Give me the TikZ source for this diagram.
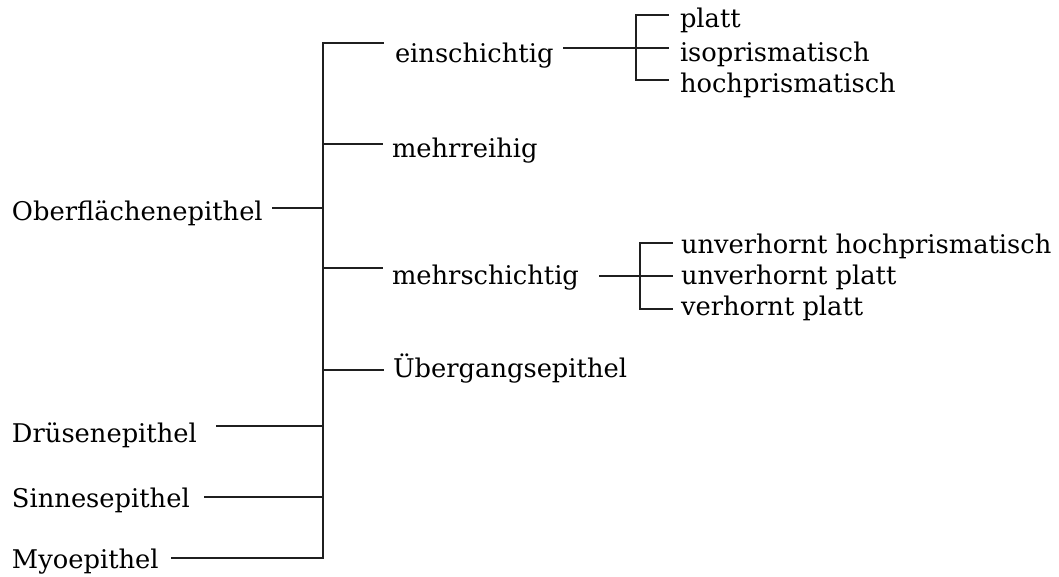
\documentclass[tikz,border=0pt]{standalone}
\usepackage{fontspec}
\setmainfont{DejaVu Serif}
\begin{document}
\begin{tikzpicture}[x=0.75pt,y=-0.75pt,
  lbl/.style={anchor=base west,inner sep=0pt,outer sep=0pt,font=\fontsize{19.3}{22}\selectfont,text=black},
  conn/.style={draw=black!88,line width=1.45pt,line cap=rect}]
\useasboundingbox (0,0) rectangle (1059,576);

% left column
\node[lbl] (ober) at (12,220) {Oberflächenepithel};
\node[lbl] (drues) at (12,442) {Drüsenepithel};
\node[lbl] (sinn) at (12,507) {Sinnesepithel};
\node[lbl] (myo) at (12,568) {Myoepithel};

% second column
\node[lbl] (ein) at (395,62) {einschichtig};
\node[lbl] (mreih) at (392,157) {mehrreihig};
\node[lbl] (mschi) at (392,284) {mehrschichtig};
\node[lbl] (ueber) at (393,377) {Übergangsepithel};

% third column, single-layered
\node[lbl] (platt) at (680,27) {platt};
\node[lbl] (iso) at (680,61) {isoprismatisch};
\node[lbl] (hoch) at (680,92) {hochprismatisch};

% third column, stratified
\node[lbl] (uvhp) at (681,253) {unverhornt hochprismatisch};
\node[lbl] (uvp) at (681,284) {unverhornt platt};
\node[lbl] (vp) at (681,315) {verhornt platt};

% trunk and its junctions
\coordinate (tTop) at (323,43);
\coordinate (tBot) at (323,558);
\coordinate (jOber) at (323,208);
\coordinate (jDrues) at (323,426);
\coordinate (jSinn) at (323,497);
\coordinate (jReih) at (323,144);
\coordinate (jSchi) at (323,268);
\coordinate (jUeber) at (323,370);

% free line ends
\coordinate (eOber) at (273,208);
\coordinate (eDrues) at (217,426);
\coordinate (eSinn) at (205,497);
\coordinate (eMyo) at (172,558);
\coordinate (eEin) at (383,43);
\coordinate (eReih) at (382,144);
\coordinate (eSchi) at (382,268);
\coordinate (eUeber) at (383,370);

% bracket for einschichtig
\coordinate (aIn) at (564,48);
\coordinate (aTop) at (636,15);
\coordinate (aMid) at (636,48);
\coordinate (aBot) at (636,80);
\coordinate (aT1) at (668,15);
\coordinate (aT2) at (668,48);
\coordinate (aT3) at (668,80);

% bracket for mehrschichtig
\coordinate (bIn) at (600,276);
\coordinate (bTop) at (640,243);
\coordinate (bMid) at (640,276);
\coordinate (bBot) at (640,309);
\coordinate (bT1) at (672,243);
\coordinate (bT2) at (672,276);
\coordinate (bT3) at (672,309);

\draw[conn] (eEin) -- (tTop) -- (tBot) -- (eMyo);
\draw[conn] (eOber) -- (jOber);
\draw[conn] (eDrues) -- (jDrues);
\draw[conn] (eSinn) -- (jSinn);
\draw[conn] (jReih) -- (eReih);
\draw[conn] (jSchi) -- (eSchi);
\draw[conn] (jUeber) -- (eUeber);

\draw[conn] (aIn) -- (aT2);
\draw[conn] (aT1) -- (aTop) -- (aBot) -- (aT3);
\draw[conn] (bIn) -- (bT2);
\draw[conn] (bT1) -- (bTop) -- (bBot) -- (bT3);
\end{tikzpicture}
\end{document}
